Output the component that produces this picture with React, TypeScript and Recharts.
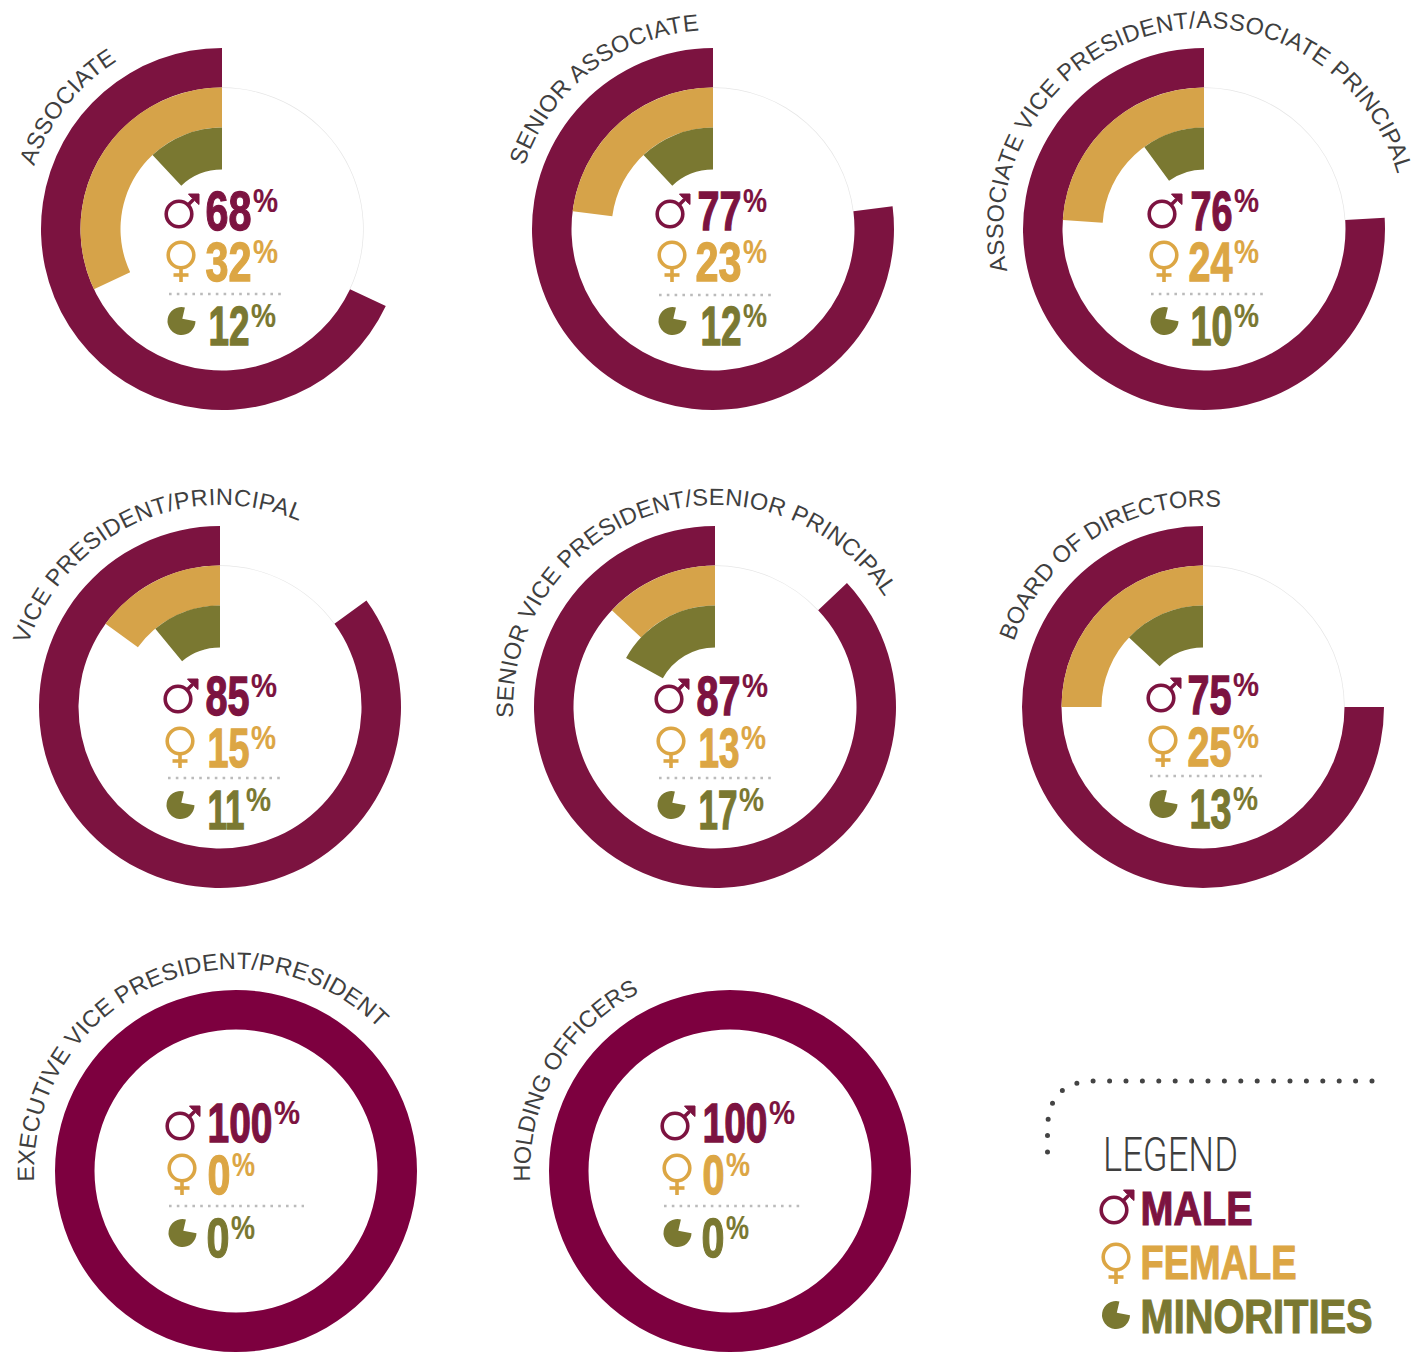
import { Cell, Pie, PieChart } from "recharts";

const titles = [
  "ASSOCIATE",
  "SENIOR ASSOCIATE",
  "ASSOCIATE VICE PRESIDENT/ASSOCIATE PRINCIPAL",
  "VICE PRESIDENT/PRINCIPAL",
  "SENIOR VICE PRESIDENT/SENIOR PRINCIPAL",
  "BOARD OF DIRECTORS",
  "EXECUTIVE VICE PRESIDENT/PRESIDENT",
  "HOLDING OFFICERS",
];
const maleShares = [68, 77, 76, 85, 87, 75, 100, 100];
const femaleShares = [32, 23, 24, 15, 13, 25, 0, 0];
const minorityShares = [12, 12, 10, 11, 17, 13, 0, 0];

const legendLabels = ["MALE", "FEMALE", "MINORITIES"];

const MAROON = "#7c1340";
const MAROON_DEEP = "#7d003f";
const GOLD = "#d6a349";
const GOLD_TEXT = "#dca644";
const OLIVE = "#7a7831";
const LABEL = "#3f3f3f";
const CONDENSED = "'Liberation Sans Narrow', 'Liberation Sans', sans-serif";

const CHART_SIZE = 380;

// ring centres, title arc (degrees clockwise from 12 o'clock) and text block placement
const cards = [
  { cx: 222, cy: 229, arc: [-71.5, -32], r: 198, icon: 164, x: [205, 205, 208], w: [47, 47, 42], pw: [25, 25, 25], base: [230, 281, 345], rule: [169, 282, 294], deep: false },
  { cx: 713, cy: 229, arc: [-71.5, -4], r: 199, icon: 655, x: [697, 695, 700], w: [45, 47, 42], pw: [24, 24, 24], base: [230, 281, 345], rule: [659, 772, 295], deep: false },
  { cx: 1204, cy: 229, arc: [-102, 74], r: 201, icon: 1147, x: [1190, 1188, 1190], w: [43, 45, 43], pw: [25, 25, 25], base: [230, 281, 345], rule: [1151, 1264, 294], deep: false },
  { cx: 220, cy: 707, arc: [-72, 23], r: 202, icon: 163, x: [205, 207, 207], w: [45, 43, 38], pw: [26, 25, 25], base: [715, 767, 829], rule: [168, 280, 778], deep: false },
  { cx: 715, cy: 707, arc: [-93, 57], r: 202, icon: 654, x: [696, 698, 698], w: [45, 42, 40], pw: [26, 25, 25], base: [715, 767, 829], rule: [659, 771, 778], deep: false },
  { cx: 1203, cy: 706.5, arc: [-71, 5], r: 200, icon: 1146, x: [1187, 1187, 1189], w: [45, 45, 43], pw: [26, 26, 25], base: [714, 766, 828], rule: [1150, 1262, 776], deep: false },
  { cx: 236, cy: 1171, arc: [-93, 45], r: 202, icon: 165, x: [207, 207, 206], w: [66, 24, 24], pw: [26, 23, 24], base: [1142, 1194, 1257], rule: [169, 304, 1206], deep: true },
  { cx: 730, cy: 1171, arc: [-93, -27], r: 200, icon: 660, x: [702, 702, 701], w: [66, 23, 24], pw: [26, 24, 23], base: [1142, 1194, 1257], rule: [664, 800, 1206], deep: true },
];

const polar = (cx: number, cy: number, r: number, deg: number) => {
  const a = (deg * Math.PI) / 180;
  return [cx + r * Math.sin(a), cy - r * Math.cos(a)];
};

function MaleIcon({ x, y }: { x: number; y: number }) {
  // x, y is the centre of the circle
  return (
    <g transform={`translate(${x} ${y})`} fill="none" stroke={MAROON} strokeWidth={3.6}>
      <circle r={12.8} />
      <path d="M9 -9 L18 -18" />
      <path d="M9.5 -20 H20 V-9.5 L16.5 -12.5 V-16.5 H12.5 Z" fill={MAROON} strokeWidth={1} />
    </g>
  );
}

function FemaleIcon({ x, y }: { x: number; y: number }) {
  return (
    <g transform={`translate(${x} ${y})`} fill="none" stroke={GOLD_TEXT} strokeWidth={3.6}>
      <circle r={12.8} />
      <path d="M0 13 V27" />
      <path d="M-7.5 20 H7.5" />
    </g>
  );
}

function MinorityIcon({ x, y }: { x: number; y: number }) {
  return <path transform={`translate(${x} ${y})`} d="M3.4 -13.6 A14 14 0 1 0 14 0.2 L0.8 -2.2 Z" fill={OLIVE} />;
}

function Ring({ male, female, minority, cx, cy, deep }: { male: number; female: number; minority: number; cx: number; cy: number; deep: boolean }) {
  const centre = CHART_SIZE / 2;
  const maleData = [{ name: "male", value: male }, { name: "rest", value: 100 - male }];
  const femaleData = [{ name: "female", value: female }, { name: "rest", value: 100 - female }];
  const minorityData = [{ name: "minority", value: minority }, { name: "rest", value: 100 - minority }];
  const ringProps = { cx: centre, cy: centre, startAngle: 90, endAngle: 450, dataKey: "value", stroke: "none", isAnimationActive: false };

  return (
    <div style={{ position: "absolute", left: cx - centre, top: cy - centre }}>
      <PieChart width={CHART_SIZE} height={CHART_SIZE} margin={{ top: 0, right: 0, bottom: 0, left: 0 }}>
        {/* hairline along the empty part of the male track */}
        <Pie {...ringProps} data={maleData} innerRadius={141} outerRadius={141.7}>
          <Cell fill="none" />
          <Cell fill={male < 100 ? "#e6e6e6" : "none"} />
        </Pie>
        <Pie {...ringProps} data={maleData} innerRadius={141.5} outerRadius={181}>
          <Cell fill={deep ? MAROON_DEEP : MAROON} />
          <Cell fill="none" />
        </Pie>
        <Pie {...ringProps} data={femaleData} innerRadius={101.5} outerRadius={141.5}>
          <Cell fill={GOLD} />
          <Cell fill="none" />
        </Pie>
        <Pie {...ringProps} data={minorityData} innerRadius={59.5} outerRadius={101.5}>
          <Cell fill={OLIVE} />
          <Cell fill="none" />
        </Pie>
      </PieChart>
    </div>
  );
}

function ShareRow({ value, x, w, pw, y, color }: { value: number; x: number; w: number; pw: number; y: number; color: string }) {
  return (
    <g fill={color} stroke={color} fontFamily={CONDENSED}>
      <text x={x + 0.5} y={y - 0.5} fontSize={56} fontWeight={700} strokeWidth={1.3} textLength={w - 1} lengthAdjust="spacingAndGlyphs">
        {value}
      </text>
      <text x={x + w + 1} y={y - 18} fontSize={34} fontWeight={700} strokeWidth={0.2} textLength={pw} lengthAdjust="spacingAndGlyphs">
        %
      </text>
    </g>
  );
}

export default function App() {
  return (
    <div style={{ position: "absolute", left: 0, top: 0, width: 1412, height: 1352, background: "#fff", overflow: "hidden" }}>
      {cards.map((c, i) => (
        <Ring key={titles[i]} male={maleShares[i]} female={femaleShares[i]} minority={minorityShares[i]} cx={c.cx} cy={c.cy} deep={c.deep} />
      ))}

      <svg width={1412} height={1352} style={{ position: "absolute", left: 0, top: 0 }}>
        {cards.map((c, i) => {
          const [sx, sy] = polar(c.cx, c.cy, c.r, c.arc[0]);
          const [ex, ey] = polar(c.cx, c.cy, c.r, c.arc[1]);
          const span = c.arc[1] - c.arc[0];
          const arcLength = (Math.PI * c.r * span) / 180;
          return (
            <g key={titles[i]}>
              <path id={`title-${i}`} d={`M${sx} ${sy} A${c.r} ${c.r} 0 ${span > 180 ? 1 : 0} 1 ${ex} ${ey}`} fill="none" />
              <text fontFamily="'Liberation Sans', sans-serif" fontSize={23.5} fill={LABEL} textLength={arcLength} lengthAdjust="spacing">
                <textPath href={`#title-${i}`} textLength={arcLength} lengthAdjust="spacing">
                  {titles[i]}
                </textPath>
              </text>

              <MaleIcon x={c.icon + 15} y={c.base[0] - 16} />
              <FemaleIcon x={c.icon + 17} y={c.base[1] - 26} />
              <MinorityIcon x={c.icon + 17.5} y={c.base[2] - 24} />

              <ShareRow value={maleShares[i]} x={c.x[0]} w={c.w[0]} pw={c.pw[0]} y={c.base[0]} color={MAROON} />
              <ShareRow value={femaleShares[i]} x={c.x[1]} w={c.w[1]} pw={c.pw[1]} y={c.base[1]} color={GOLD_TEXT} />
              <ShareRow value={minorityShares[i]} x={c.x[2]} w={c.w[2]} pw={c.pw[2]} y={c.base[2]} color={OLIVE} />

              <line x1={c.rule[0]} x2={c.rule[1]} y1={c.rule[2]} y2={c.rule[2]} stroke="#bbbbbb" strokeWidth={2.6} strokeDasharray="2.6 5.2" />
            </g>
          );
        })}

        {/* legend block */}
        <path d="M1372 1081 H1095 Q1047.5 1081 1047.5 1130 V1168" fill="none" stroke="#444" strokeWidth={5} strokeLinecap="round" strokeDasharray="0 16.4" />
        <text x={1103} y={1171} fontFamily="Roboto, sans-serif" fontWeight={300} fontSize={48} fill={LABEL} textLength={135} lengthAdjust="spacingAndGlyphs">
          LEGEND
        </text>
        <MaleIcon x={1114} y={1210} />
        <FemaleIcon x={1116} y={1257} />
        <MinorityIcon x={1116} y={1315} />
        <g fontFamily={CONDENSED} fontWeight={700} fontSize={48} strokeWidth={1.2}>
          <text x={1140.5} y={1224.5} fill={MAROON} stroke={MAROON} textLength={112} lengthAdjust="spacingAndGlyphs">
            {legendLabels[0]}
          </text>
          <text x={1140.5} y={1279} fill={GOLD_TEXT} stroke={GOLD_TEXT} textLength={156} lengthAdjust="spacingAndGlyphs">
            {legendLabels[1]}
          </text>
          <text x={1140.5} y={1333} fill={OLIVE} stroke={OLIVE} textLength={232} lengthAdjust="spacingAndGlyphs">
            {legendLabels[2]}
          </text>
        </g>
      </svg>
    </div>
  );
}
